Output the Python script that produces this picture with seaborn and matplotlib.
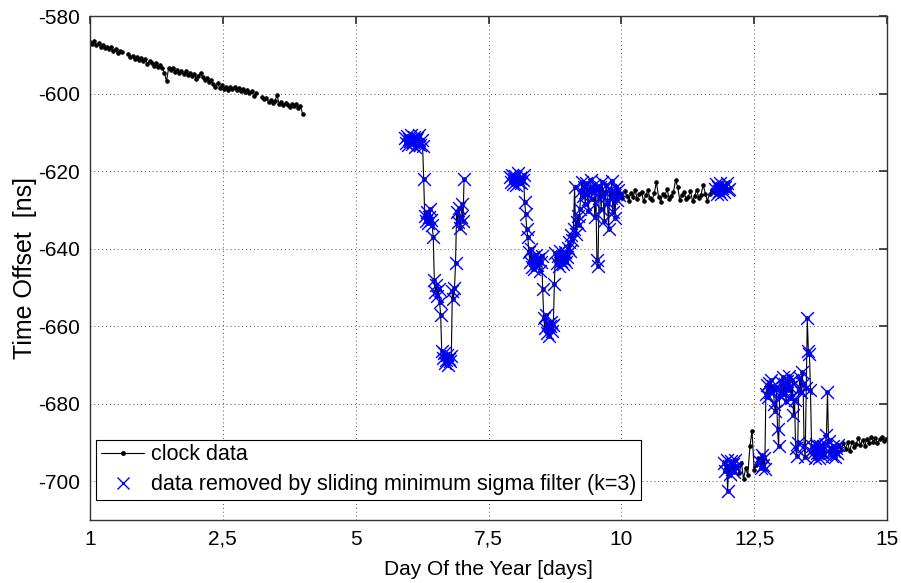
import numpy as np
import pandas as pd
import matplotlib
matplotlib.use("Agg")
import matplotlib.pyplot as plt
from matplotlib.lines import Line2D
import seaborn as sns

# ------------------------------------------------------------
# Data
# Each block is sampled at a fixed interval from its start day.
# ------------------------------------------------------------
# clock data, day 0.00 - 0.60
a1_ns = [-586.8, -587.2, -586.5, -587.6, -587.0, -588.1, -587.5, -588.3,
         -587.9, -588.6, -588.0, -589.1, -588.4, -589.6, -588.9, -589.3]
# clock data, day 0.72 - 3.12
a2_ns = [-589.9, -590.6, -590.2, -591.1, -590.5, -591.4, -590.8, -591.7, -591.2, -592.3,
         -591.6, -592.0, -592.8, -592.2, -593.1, -592.6, -593.5, -594.6, -596.8, -593.4,
         -594.0, -593.3, -594.4, -593.8, -594.7, -594.1, -595.0, -594.3, -595.2, -594.6,
         -595.6, -595.0, -596.2, -595.5, -594.6, -595.8, -596.4, -595.9, -597.1, -596.5,
         -597.6, -598.2, -597.4, -598.5, -597.9, -598.8, -598.2, -599.0, -598.4, -598.9,
         -598.3, -599.1, -598.6, -599.4, -598.9, -599.6, -599.1, -599.8, -599.3, -600.6,
         -599.9]
# clock data, day 3.24 - 4.00
a3_ns = [-600.8, -601.5, -601.1, -602.2, -601.6, -602.5, -601.9, -600.4, -602.8, -602.1,
         -603.0, -602.4, -602.9, -603.5, -602.7, -603.3, -602.6, -603.8, -603.2, -605.2]
# removed, day 5.92 - 7.04
b_ns = [-611.5, -612.8, -610.9, -613.4, -611.8, -612.2, -610.6, -613.0, -612.5, -611.2,
        -613.8, -612.0, -611.4, -612.9, -610.8, -613.2, -612.1, -613.6,
        -622.0,
        -631.5, -632.8, -630.6, -633.4, -631.9, -629.8, -632.5, -634.0,
        -637.0,
        -648.0, -651.2, -649.5, -652.3, -650.4,
        -653.8, -657.2,
        -666.5, -668.2, -667.0, -669.4, -668.8, -667.5, -670.0, -668.4, -669.1, -667.8,
        -651.0, -653.0, -650.2,
        -643.6,
        -630.5, -633.2, -629.4, -634.6, -631.8, -628.6, -632.9,
        -622.0]
# removed, day 7.90 - 9.96
c1_ns = [-621.5, -622.8, -620.9, -623.4, -622.0, -621.2, -623.6, -622.4, -620.6, -622.9,
         -621.8, -623.1, -622.2, -621.0,
         -628.0, -631.0, -635.0, -637.0,
         -641.0, -643.5, -640.2, -644.8, -642.1, -645.3, -643.0, -641.6, -644.2, -642.7,
         -645.8, -643.4, -641.9,
         -650.5,
         -658.0, -660.6, -657.2, -661.8, -659.4, -662.5, -660.0, -658.8, -661.2, -659.8,
         -649.0,
         -641.2, -643.8, -642.0, -644.5, -640.6, -643.2, -641.8, -644.0, -642.6, -640.9,
         -643.5, -642.2,
         -639.8, -638.2, -640.5, -636.4, -637.8, -634.9, -624.0, -636.2, -633.1, -631.5,
         -634.0, -629.8,
         -625.2, -622.8, -626.4, -624.0, -628.5, -623.2, -625.8, -630.4, -624.6, -622.4,
         -627.1, -625.0, -623.6, -631.8, -624.8,
         -643.0, -644.6,
         -627.0, -624.2, -629.8, -622.8, -626.5, -633.0, -625.4, -623.6, -628.2, -635.0,
         -624.8, -626.9, -622.6, -630.5, -625.6, -632.0, -624.2, -627.4, -625.0, -626.2]
# clock data, day 9.98 - 11.74
c2_ns = [-625.8, -627.0, -625.2, -626.4, -627.6, -625.6, -626.8, -624.9, -627.2, -626.0,
         -625.4, -627.8, -626.2, -625.0, -626.9, -627.4, -625.7, -622.8, -626.6, -627.9,
         -625.9, -626.5, -624.6, -627.1, -626.3, -625.5, -622.4, -624.0, -627.5, -626.1,
         -625.3, -627.3, -626.7, -625.1, -627.8, -626.4, -624.8, -627.0, -626.2, -623.5,
         -625.8, -627.6, -626.0, -624.9, -625.4]
# removed, day 11.76 - 12.02
c3_ns = [-624.6, -623.4, -625.8, -624.0, -625.2, -623.1, -626.0, -624.4, -623.8, -625.5,
         -624.2, -623.0, -625.0, -624.6]
# removed, day 11.94 - 12.16
d1_ns = [-695.2, -697.4, -694.6, -702.5, -696.0, -698.1, -694.9, -696.8, -695.5, -697.6,
         -694.4, -696.3]
# clock data, day 12.18 - 12.58
d2_ns = [-696.0, -697.8, -695.2, -699.5, -696.6, -698.4, -691.0, -687.0, -697.2, -695.8,
         -694.0]
# removed, day 12.60 - 14.08
d3_ns = [-694.8, -696.5, -693.2, -695.9, -694.1, -696.8, -677.5, -675.2, -678.4, -674.6,
         -676.9, -673.8, -677.1, -675.5, -680.2, -682.0, -676.3, -686.6, -691.0, -678.0,
         -674.4, -676.8, -673.2, -677.6, -675.0, -679.4, -674.2, -676.5, -672.8, -675.8,
         -678.6, -674.0, -683.0, -679.0, -691.5, -693.6, -690.2, -676.2, -673.5, -677.0,
         -671.8, -674.8, -691.0, -693.8, -676.0, -658.0, -666.5, -667.2, -676.4, -690.8,
         -692.6, -691.4, -693.9, -690.5, -692.8, -691.2, -694.0, -690.8, -692.4, -693.6,
         -691.0, -692.9, -690.4, -688.2, -677.0, -689.6, -692.6, -691.3, -693.5, -690.9,
         -692.2, -693.8, -691.5, -692.7, -690.6]
# clock data, day 14.10 - 14.98
d4_ns = [-690.8, -692.0, -690.2, -691.6, -690.0, -692.3, -689.8, -691.1, -690.4, -688.8,
         -690.6, -689.4, -690.9, -689.0, -690.2, -688.6, -689.8, -688.9, -690.1, -689.2,
         -688.5, -689.6, -689.0]

block_values = [a1_ns, a2_ns, a3_ns, b_ns, c1_ns, c2_ns, c3_ns, d1_ns, d2_ns, d3_ns, d4_ns]
block_start = [0.00, 0.72, 3.24, 5.92, 7.90, 9.98, 11.76, 11.94, 12.18, 12.60, 14.10]
block_step = [0.04, 0.04, 0.04, 0.02, 0.02, 0.04, 0.02, 0.02, 0.04, 0.02, 0.04]
block_removed = [False, False, False, True, True, False, True, True, False, True, False]
block_run = [1, 2, 3, 4, 5, 5, 5, 6, 6, 6, 6]   # blocks of one run are joined by the line

xtick_pos = [0, 2.5, 5, 7.5, 10, 12.5, 15]
xtick_labels = ["1", "2,5", "5", "7,5", "10", "12,5", "15"]
ytick_pos = [-700, -680, -660, -640, -620, -600, -580]
legend_labels = ["clock data",
                 "data removed by sliding minimum sigma filter (k=3)"]

# ------------------------------------------------------------
# Build one long table
# ------------------------------------------------------------
frames = []
for vals, t0, dt, rem, run in zip(block_values, block_start, block_step,
                                  block_removed, block_run):
    frames.append(pd.DataFrame({
        "day": t0 + dt * np.arange(len(vals)),
        "ns": vals,
        "removed": rem,
        "run": run,
    }))
df = pd.concat(frames, ignore_index=True)

# ------------------------------------------------------------
# Plot
# ------------------------------------------------------------
sns.set_theme(style="white")
plt.rcParams["font.family"] = ["Liberation Sans", "DejaVu Sans"]
plt.rcParams["axes.unicode_minus"] = False
plt.rcParams["text.color"] = "black"
plt.rcParams["axes.labelcolor"] = "black"
plt.rcParams["xtick.color"] = "black"
plt.rcParams["ytick.color"] = "black"

fig = plt.figure(figsize=(9.01, 5.83), dpi=100)
ax = fig.add_axes([90 / 901, 1 - 520 / 583, 797 / 901, 504 / 583])

for run, g in df.groupby("run"):
    sns.lineplot(data=g, x="day", y="ns", sort=False, estimator=None,
                 color="black", linewidth=0.8, marker=".", markersize=5,
                 markeredgecolor="black", markerfacecolor="black",
                 ax=ax, legend=False, zorder=2)

sns.scatterplot(data=df[df["removed"]], x="day", y="ns", marker="x",
                color="blue", s=85, linewidth=1.0, ax=ax, legend=False, zorder=3)

ax.set_xlim(0, 15)
ax.set_ylim(-710, -580)
ax.set_xticks(xtick_pos)
ax.set_xticklabels(xtick_labels)
ax.set_yticks(ytick_pos)
ax.tick_params(direction="in", length=6, top=True, right=True,
               labelsize=15, pad=7, color="#333333", labelcolor="black")
ax.grid(True, linestyle=(0, (1, 3)), color="#555555", linewidth=0.7)
for sp in ax.spines.values():
    sp.set_color("#333333")
    sp.set_linewidth(1.0)

ax.set_xlabel("Day Of the Year [days]", fontsize=15, labelpad=8, color="black")
ax.set_ylabel("Time Offset  [ns]", fontsize=18, labelpad=1, color="black")

h1 = Line2D([], [], color="black", linewidth=0.8, marker=".", markersize=5)
h2 = Line2D([], [], color="blue", linewidth=0, marker="x", markersize=9,
            markeredgewidth=1.0)
leg = ax.legend([h1, h2], legend_labels, loc="lower left",
                bbox_to_anchor=(0.008, 0.04), borderaxespad=0, fontsize=15.5,
                frameon=True, fancybox=False, framealpha=1, edgecolor="black",
                handlelength=2.0, handletextpad=0.3, labelspacing=0.4,
                borderpad=0.22)
leg.get_frame().set_linewidth(0.8)
for txt in leg.get_texts():
    txt.set_color("black")

fig.savefig("out.png", dpi=100)
